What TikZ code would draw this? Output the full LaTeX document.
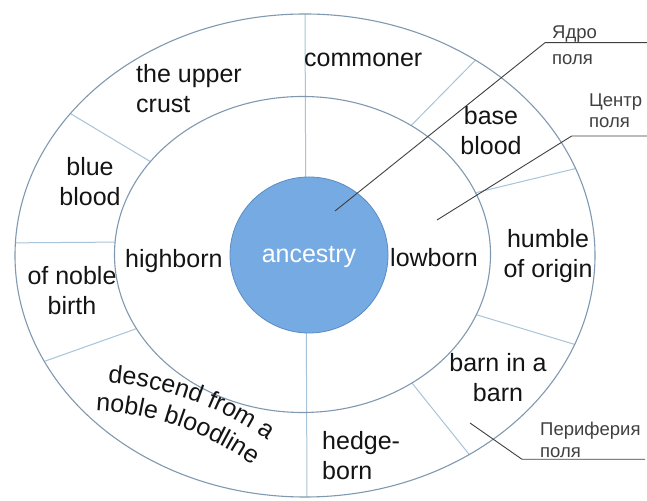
\documentclass[tikz,border=0pt]{standalone}
\usepackage{fontspec}
\setmainfont{Liberation Sans}
\usetikzlibrary{calc,decorations.text}
\definecolor{ringc}{RGB}{128,153,176}
\definecolor{divc}{RGB}{168,196,216}
\definecolor{corefill}{RGB}{118,170,226}
\definecolor{coreline}{RGB}{90,140,195}
\definecolor{leadc}{RGB}{64,64,64}
\definecolor{txtc}{RGB}{20,20,20}
\begin{document}
\begin{tikzpicture}[x=1pt,y=1pt,
  ring/.style={draw=ringc, line width=1.1pt},
  divider/.style={draw=divc, line width=1pt},
  leader/.style={draw=leadc, line width=0.9pt},
  lbl/.style={font=\fontsize{25}{30}\selectfont, text=txtc, inner sep=0pt, align=center},
  note/.style={font=\fontsize{18.5}{21}\selectfont, text=leadc, inner sep=0pt, anchor=base west, align=left},
  arctext/.style={decorate, decoration={text along path, text align=center, text color=txtc, text={|\fontsize{25}{30}\selectfont|#1}}}]
\useasboundingbox (0,0) rectangle (647,500);
\fill[white] (0,0) rectangle (647,500);
\coordinate (O) at (305,244.5);
\coordinate (I) at (302.5,245.5);
% dividers of the outer ring
\foreach \ao/\ai in {144/144, 177/175.5, 206/208, 54/54.7, 21.1/23, -21.6/-22.4, -55.5/-54.4}
  \draw[divider] ($(I)+(\ai:188pt and 158pt)$) -- ($(O)+(\ao:290pt and 241.5pt)$);
\coordinate (vtop) at (305,486);
\coordinate (vbot) at (307,3);
\draw[divider] (vtop) -- (vbot);
% rings
\draw[ring] (O) ellipse[x radius=290, y radius=241.5];
\draw[ring] (I) ellipse[x radius=188, y radius=158];
% core
\draw[fill=corefill, draw=coreline, line width=0.8pt] (309,245) ellipse[x radius=79, y radius=78];
\node[lbl, anchor=base, text=white] (anc) at (309,237) {ancestry};
% labels (base = baseline of the last line)
\node[lbl, anchor=base west, align=left] (upper) at (136,387) {the upper\\crust};
\node[lbl, anchor=base west] (commoner) at (304,433) {commoner};
\node[lbl, anchor=base] (baseb) at (491,345) {base\\blood};
\node[lbl, anchor=base] (blue) at (90,294) {blue\\blood};
\node[lbl, anchor=base] (noble) at (72,185) {of noble\\birth};
\node[lbl, anchor=base west] (high) at (125,232) {highborn};
\node[lbl, anchor=base] (low) at (434,233) {lowborn};
\node[lbl, anchor=base] (humble) at (548,222) {humble\\of origin};
\node[lbl, anchor=base] (barn) at (498,98) {barn in a\\barn};
\node[lbl, anchor=base west, align=left] (hedge) at (322,20) {hedge-\\born};
% curved text
\path[arctext={descend from a}] (52.3,117.5) arc[start angle=95.1, end angle=45.1, radius=325pt];
\path[arctext={noble bloodline}] (50.8,88.2) arc[start angle=95.9, end angle=45.9, radius=296pt];
% leader notes
\node[note] (yadro) at (552,435) {Ядро\\[5pt]поля};
\node[note] (centr) at (589,372) {Центр\\поля};
\node[note] (perif) at (540,42) {Периферия\\[1pt]поля};
\coordinate (y0) at (335,289);
\coordinate (y1) at (545,457.3);
\coordinate (y2) at (647,457.3);
\draw[leader] (y0) -- (y1) -- (y2);
\coordinate (c0) at (437,280);
\coordinate (c1) at (571.7,364);
\coordinate (c2) at (647,364);
\draw[leader] (c0) -- (c1) -- (c2);
\coordinate (p0) at (470,77);
\coordinate (p1) at (522,40.7);
\coordinate (p2) at (645,40.7);
\draw[leader] (p0) -- (p1) -- (p2);
\end{tikzpicture}
\end{document}
